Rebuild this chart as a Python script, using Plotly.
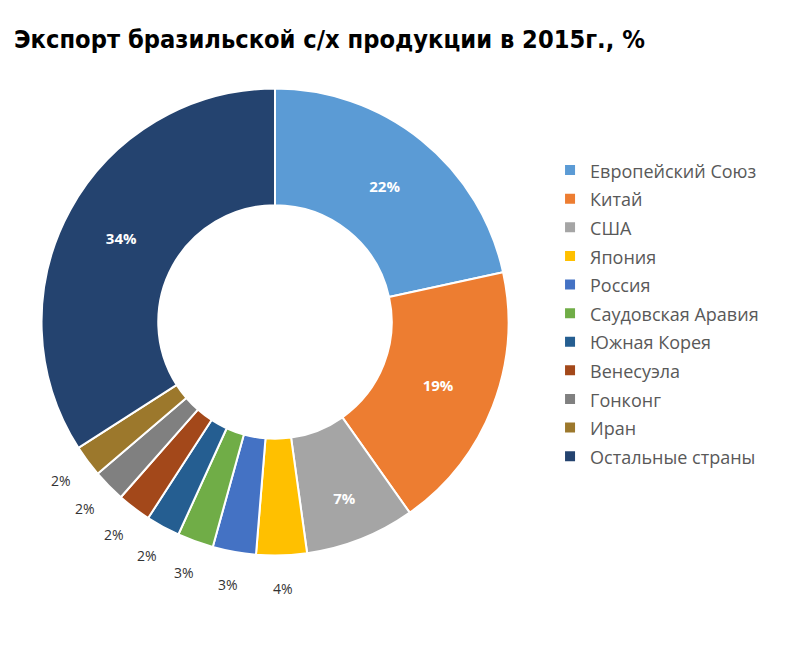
import math
import plotly.graph_objects as go

title = "Экспорт бразильской с/х продукции в 2015г., %"
countries = ["Европейский Союз", "Китай", "США", "Япония", "Россия",
             "Саудовская Аравия", "Южная Корея", "Венесуэла", "Гонконг",
             "Иран", "Остальные страны"]
shares = [21.6, 18.65, 7.6, 3.5, 3.0, 2.5, 2.35, 2.35, 2.25, 2.2, 34.1]
# labels as printed on the chart
share_labels = ["22%", "19%", "7%", "4%", "3%", "3%", "2%", "2%", "2%", "2%", "34%"]
colors = ["#5B9BD5", "#ED7D31", "#A5A5A5", "#FFC000", "#4472C4", "#70AD47",
          "#255E91", "#A3481A", "#808080", "#9C782C", "#24436F"]
label_inside = [True, True, True, False, False, False, False, False, False, False, True]

W, H = 789, 658
dom_x = [0.0425, 0.6343]
dom_y = [0.1679, 0.8777]

legend_names = ['<span style="font-size:18px">' + c + '</span>' for c in countries]

fig = go.Figure(go.Pie(
    labels=legend_names,
    values=shares,
    text=[t if ins else "" for t, ins in zip(share_labels, label_inside)],
    textinfo="text",
    hovertext=countries,
    hoverinfo="text+percent",
    sort=False,
    direction="clockwise",
    rotation=0,
    hole=0.5,
    marker=dict(colors=colors, line=dict(color="white", width=2)),
    textposition=["inside" if ins else "none" for ins in label_inside],
    insidetextorientation="horizontal",
    insidetextfont=dict(family="Open Sans", size=15, color="white", weight="bold"),
    domain=dict(x=dom_x, y=dom_y),
    showlegend=True,
))

# outside labels for small slices, placed along each slice's mid-angle
cx = (dom_x[0] + dom_x[1]) / 2 * W
cy = (1 - (dom_y[0] + dom_y[1]) / 2) * H
R = min((dom_x[1] - dom_x[0]) * W, (dom_y[1] - dom_y[0]) * H) / 2
total = sum(shares)
cum = 0.0
annotations = []
for v, lab, ins in zip(shares, share_labels, label_inside):
    mid = (cum + v / 2) / total * 2 * math.pi
    cum += v
    if ins:
        continue
    r = R * 1.14
    sx = cx + r * math.sin(mid)
    sy = cy - r * math.cos(mid)
    annotations.append(dict(
        x=sx / W, y=1 - sy / H, xref="paper", yref="paper",
        text=lab, showarrow=False, xanchor="center", yanchor="middle",
        font=dict(family="Open Sans", size=14, color="#333333"),
    ))

fig.update_layout(
    width=W, height=H,
    margin=dict(l=0, r=0, t=0, b=0),
    paper_bgcolor="white",
    plot_bgcolor="white",
    title=dict(text="<b>" + title + "</b>", x=0.0076, xanchor="left",
               y=0.952, yanchor="middle",
               font=dict(family="DejaVu Sans Condensed, sans-serif",
                         size=25.2, color="black")),
    legend=dict(x=0.687, y=0.783, xanchor="left", yanchor="top",
                font=dict(family="Open Sans", size=19.7, color="#595959"),
                itemwidth=30),
    annotations=annotations,
)

fig.write_html("out.html")
